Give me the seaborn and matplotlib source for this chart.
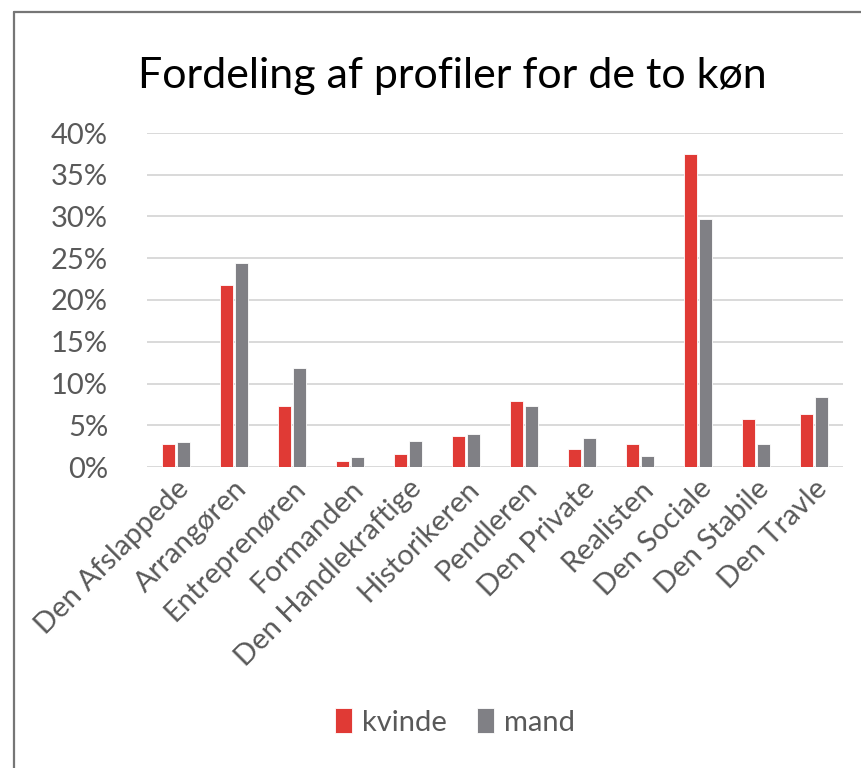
import pandas as pd
import seaborn as sns
import matplotlib.pyplot as plt
from matplotlib.ticker import PercentFormatter
from matplotlib.lines import Line2D

# data (share of each gender)
profiles = ["Den Afslappede", "Arrangøren", "Entreprenøren", "Formanden",
            "Den Handlekraftige", "Historikeren", "Pendleren", "Den Private",
            "Realisten", "Den Sociale", "Den Stabile", "Den Travle"]
kvinde = [0.028, 0.218, 0.073, 0.007, 0.016, 0.0375, 0.079, 0.0215, 0.027, 0.375, 0.057, 0.0635]
mand = [0.030, 0.244, 0.119, 0.0115, 0.0315, 0.040, 0.073, 0.035, 0.013, 0.297, 0.027, 0.0835]

df = pd.DataFrame({
    "profil": profiles * 2,
    "køn": ["kvinde"] * len(profiles) + ["mand"] * len(profiles),
    "andel": kvinde + mand,
})

sns.set_style("white")
plt.rcParams["font.family"] = ["Lato", "DejaVu Sans"]

fig = plt.figure(figsize=(8.61, 7.68), dpi=100)
ax = fig.add_axes([147 / 861, 1 - 467 / 768, 696 / 861, 334 / 768])

sns.barplot(data=df, x="profil", y="andel", hue="køn",
            palette={"kvinde": "#E03A35", "mand": "#808085"}, saturation=1,
            width=0.52, gap=0.12, edgecolor="white", linewidth=0.6,
            zorder=3, ax=ax)

ax.set_ylim(0, 0.40)
ax.set_xlim(-0.5, len(profiles) - 0.5)
ax.set_yticks([i * 0.05 for i in range(9)])
ax.yaxis.set_major_formatter(PercentFormatter(1, decimals=0))
ax.grid(axis="y", color="#d9d9d9", linewidth=1.4, zorder=0)
ax.set_axisbelow(True)
sns.despine(ax=ax, left=True, bottom=True)
ax.set_xlabel("")
ax.set_ylabel("")
ax.tick_params(axis="both", length=0, labelcolor="#595959", labelsize=21)
ax.tick_params(axis="y", pad=28)
ax.tick_params(axis="x", pad=6)
plt.setp(ax.get_xticklabels(), rotation=45, ha="right", rotation_mode="anchor")

# title
fig.text(452 / 861, 1 - 76 / 768, "Fordeling af profiler for de to køn",
         ha="center", va="center", fontsize=31, color="black")

# legend under the chart
leg = ax.legend(loc="center", bbox_to_anchor=(455 / 861, 1 - 722 / 768),
                bbox_transform=fig.transFigure, ncol=2, frameon=False,
                fontsize=21, handlelength=0.6, handleheight=0.9,
                handletextpad=0.35, columnspacing=1.0)
for t in leg.get_texts():
    t.set_color("#595959")

# outer frame (cut off at right and bottom)
y_top = 1 - 12 / 768
x_left = 14 / 861
fig.add_artist(Line2D([x_left, 1], [y_top, y_top], color="#767676", linewidth=1.6))
fig.add_artist(Line2D([x_left, x_left], [0, y_top], color="#767676", linewidth=1.6))

fig.savefig("out.png", dpi=100)
